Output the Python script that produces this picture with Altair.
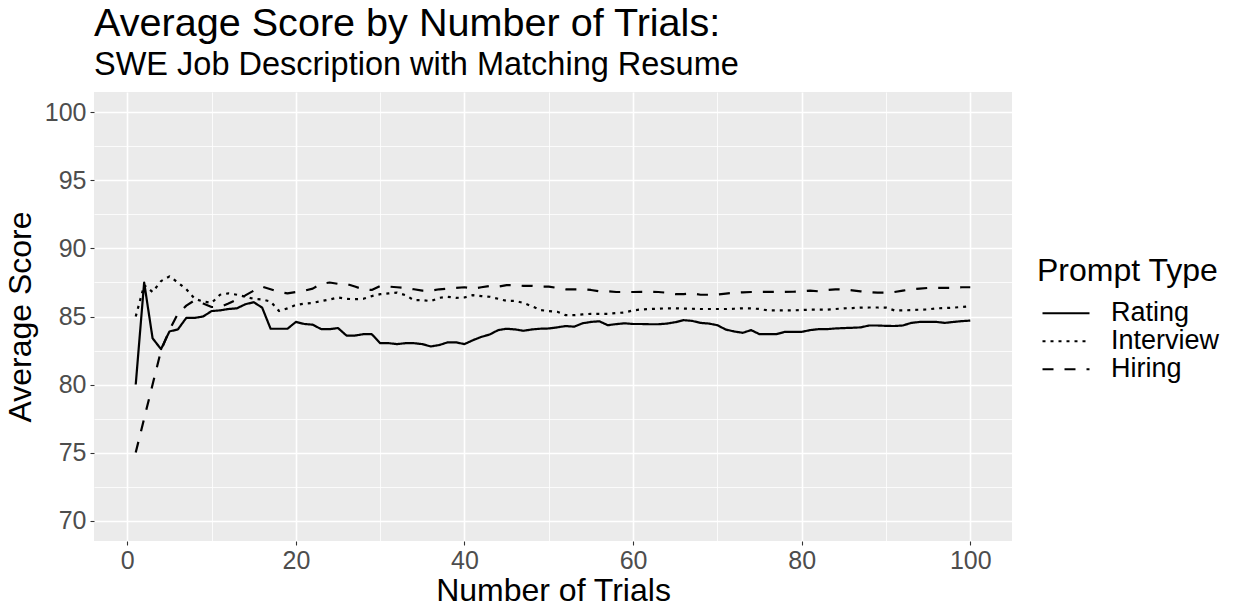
import altair as alt
import pandas as pd

trials = list(range(1, 101))

rating = [80.0, 87.5, 83.4, 82.6, 83.9, 84.05, 84.9, 84.9, 85.0, 85.4,
          85.45, 85.55, 85.6, 85.9, 86.05, 85.65, 84.1, 84.1, 84.1, 84.6,
          84.45, 84.4, 84.07, 84.07, 84.15, 83.6, 83.6, 83.7, 83.7, 83.04,
          83.04, 82.97, 83.04, 83.04, 82.97, 82.8, 82.9, 83.1, 83.1, 82.97,
          83.26, 83.5, 83.68, 84.0, 84.1, 84.05, 83.95, 84.05, 84.1, 84.12,
          84.2, 84.3, 84.25, 84.5, 84.6, 84.65, 84.36, 84.44, 84.5, 84.45,
          84.45, 84.43, 84.43, 84.48, 84.58, 84.73, 84.68, 84.53, 84.48, 84.36,
          84.04, 83.9, 83.8, 84.0, 83.7, 83.7, 83.7, 83.87, 83.87, 83.87,
          84.0, 84.07, 84.07, 84.12, 84.15, 84.17, 84.2, 84.34, 84.34, 84.31,
          84.3, 84.34, 84.53, 84.6, 84.6, 84.6, 84.53, 84.6, 84.66, 84.7]

interview = [85.0, 87.3, 86.8, 87.6, 87.95, 87.5, 87.0, 86.3, 86.1, 86.0,
             86.6, 86.7, 86.6, 86.45, 86.3, 86.25, 86.1, 85.4, 85.6, 85.85,
             85.95, 86.0, 86.13, 86.25, 86.4, 86.3, 86.27, 86.3, 86.5, 86.64,
             86.7, 86.76, 86.57, 86.2, 86.2, 86.13, 86.37, 86.45, 86.37, 86.4,
             86.57, 86.5, 86.45, 86.3, 86.15, 86.15, 86.0, 85.75, 85.47, 85.4,
             85.35, 85.1, 85.1, 85.15, 85.2, 85.2, 85.2, 85.25, 85.3, 85.45,
             85.52, 85.55, 85.57, 85.6, 85.6, 85.58, 85.57, 85.55, 85.55, 85.55,
             85.55, 85.57, 85.6, 85.6, 85.55, 85.45, 85.45, 85.45, 85.45, 85.48,
             85.5, 85.5, 85.5, 85.55, 85.6, 85.62, 85.65, 85.66, 85.66, 85.65,
             85.45, 85.45, 85.47, 85.5, 85.52, 85.6, 85.62, 85.65, 85.7, 85.75]

hiring = [75.0, 77.5, 80.0, 82.5, 84.0, 85.2, 85.8, 86.2, 85.95, 85.7,
          85.7, 85.95, 86.25, 86.55, 86.9, 87.2, 87.0, 86.8, 86.7, 86.8,
          86.9, 87.05, 87.4, 87.5, 87.4, 87.4, 87.2, 87.0, 86.95, 87.25,
          87.2, 87.15, 87.1, 87.0, 86.9, 86.9, 87.0, 87.05, 87.1, 87.15,
          87.05, 87.15, 87.25, 87.2, 87.3, 87.3, 87.25, 87.25, 87.2, 87.2,
          87.1, 87.0, 87.0, 87.0, 86.95, 86.85, 86.85, 86.8, 86.8, 86.8,
          86.81, 86.81, 86.8, 86.75, 86.65, 86.65, 86.7, 86.6, 86.6, 86.62,
          86.68, 86.75, 86.78, 86.8, 86.81, 86.81, 86.81, 86.81, 86.82, 86.85,
          86.9, 86.85, 86.95, 87.0, 86.98, 86.92, 86.85, 86.8, 86.75, 86.75,
          86.8, 86.9, 87.0, 87.05, 87.1, 87.1, 87.1, 87.1, 87.15, 87.15]

series_names = ["Rating", "Interview", "Hiring"]
dash_styles = [[1, 0], [3, 5], [11, 11]]
line_widths = [2.2, 2.2, 3.0]

x_ticks = list(range(0, 101, 10))
y_ticks = [70 + 2.5 * i for i in range(13)]

rows = []
for name, vals in zip(series_names, [rating, interview, hiring]):
    for t, v in zip(trials, vals):
        rows.append({"trial": t, "score": v, "type": name})
df = pd.DataFrame(rows)

FONT = "Liberation Sans"

x_axis = alt.Axis(
    values=x_ticks,
    labelExpr="datum.value % 20 === 0 ? datum.label : ''",
    gridColor="white",
    gridWidth={"condition": {"test": "datum.value % 20 === 0", "value": 1.6}, "value": 0.8},
    tickOpacity={"condition": {"test": "datum.value % 20 === 0", "value": 1}, "value": 0},
    tickColor="#333333", tickSize=4, tickWidth=1.1,
    domain=False,
    labelFont=FONT, labelFontSize=25, labelColor="#4D4D4D", labelPadding=3,
    labelOverlap=False,
    titleFont=FONT, titleFontSize=32, titleFontWeight="normal", titleColor="black",
    titlePadding=2,
)
y_axis = alt.Axis(
    values=y_ticks,
    labelExpr="datum.value % 5 === 0 ? datum.label : ''",
    gridColor="white",
    gridWidth={"condition": {"test": "datum.value % 5 === 0", "value": 1.6}, "value": 0.8},
    tickOpacity={"condition": {"test": "datum.value % 5 === 0", "value": 1}, "value": 0},
    tickColor="#333333", tickSize=4, tickWidth=1.1,
    domain=False,
    labelFont=FONT, labelFontSize=25, labelColor="#4D4D4D", labelPadding=4,
    labelOverlap=False,
    titleFont=FONT, titleFontSize=32, titleFontWeight="normal", titleColor="black",
    titlePadding=7,
)

legend = alt.Legend(
    title="Prompt Type", orient="none", legendX=943, legendY=164,
    titleFont=FONT, titleFontSize=32, titleFontWeight="normal", titleColor="black",
    titlePadding=12, titleLimit=400,
    labelFont=FONT, labelFontSize=27, labelColor="black", labelLimit=300,
    symbolType="stroke", symbolSize=2209, symbolStrokeWidth=2.2,
    symbolStrokeColor="black", symbolOffset=4, labelOffset=20,
    clipHeight=26.5, rowPadding=0,
)

chart = alt.Chart(df).mark_line(color="black", strokeJoin="round", strokeCap="butt").encode(
    x=alt.X("trial:Q", title="Number of Trials",
            scale=alt.Scale(domain=[-3.95, 104.95], nice=False, zero=False),
            axis=x_axis),
    y=alt.Y("score:Q", title="Average Score",
            scale=alt.Scale(domain=[68.5, 101.5], nice=False, zero=False),
            axis=y_axis),
    strokeDash=alt.StrokeDash("type:N", scale=alt.Scale(domain=series_names, range=dash_styles),
                              legend=legend),
    strokeWidth=alt.StrokeWidth("type:N", scale=alt.Scale(domain=series_names, range=line_widths),
                                legend=None),
).properties(
    width=918, height=449,
    title=alt.TitleParams(
        text="Average Score by Number of Trials:",
        subtitle="SWE Job Description with Matching Resume",
        anchor="start", frame="group", offset=10,
        font=FONT, fontSize=39.6, fontWeight="normal", color="black",
        subtitleFont=FONT, subtitleFontSize=32.5, subtitleColor="black",
        subtitlePadding=4,
    ),
    autosize=alt.AutoSizeParams(type="none"),
    padding={"left": 86, "top": 84, "right": 215, "bottom": 67},
).configure(
    background="white",
    view=alt.ViewConfig(fill="#EBEBEB", stroke=None),
)

chart.save("out.html", embed_options={"renderer": "svg", "actions": False})
